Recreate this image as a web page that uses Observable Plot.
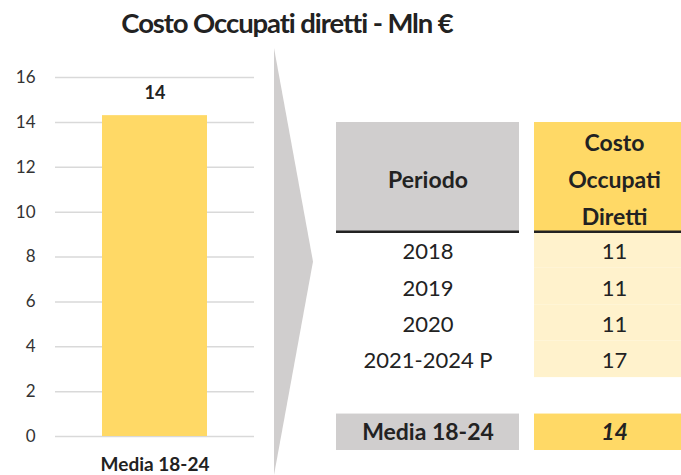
<!DOCTYPE html>
<html><head><meta charset="utf-8">
<script src="https://cdn.jsdelivr.net/npm/d3@7"></script>
<script src="https://cdn.jsdelivr.net/npm/@observablehq/plot@0.6"></script>
<style>
html,body{margin:0;padding:0;background:#fff;overflow:hidden;}
#root{position:relative;width:681px;height:475px;overflow:hidden;font-family:Lato,sans-serif;}
#root > *{position:absolute;}
#title{left:0;width:574px;top:10px;text-align:center;font-weight:700;font-size:27.5px;letter-spacing:-1.1px;line-height:26px;color:#222;white-space:nowrap;}
</style></head><body><div id="root"><div id="title"></div></div>
<script>
// ---- data ----
const title = "Costo Occupati diretti - Mln €";
const barCategories = ["Media 18-24"];
const barValues = [14.3];
const barLabels = ["14"];
const yTicks = [0, 2, 4, 6, 8, 10, 12, 14, 16];
const periods = ["2018", "2019", "2020", "2021-2024 P"];
const costs = [11, 11, 11, 17];
const headerPeriod = "Periodo";
const headerCost = "Costo\nOccupati\nDiretti";
const summaryLabel = "Media 18-24";
const summaryValue = "14";
const arrowProfile = [0, 1, 0];

// ---- colours ----
const YELLOW = "#FFD966", LIGHTYELLOW = "#FFF2CC", GREY = "#D0CECE", INK = "#222";
const FONT = "Lato, sans-serif";

const root = document.getElementById("root");
document.getElementById("title").textContent = title;

function place(node, left, top) {
  node.style.left = left + "px"; node.style.top = top + "px";
  root.appendChild(node);
}

// ---- bar chart ----
const barData = barCategories.map((c, i) => ({cat: c, value: barValues[i], label: barLabels[i]}));
const bar = Plot.plot({
  width: 254, height: 475,
  marginLeft: 55, marginRight: 0, marginTop: 77, marginBottom: 39,
  style: {fontFamily: FONT, background: "transparent", overflow: "visible"},
  x: {type: "band", domain: barCategories, padding: 0.309, label: null},
  y: {domain: [0, 16], label: null},
  marks: [
    Plot.ruleY(yTicks, {stroke: "#d9d9d9", strokeWidth: 1.5}),
    Plot.barY(barData, {x: "cat", y: "value", fill: YELLOW}),
    Plot.text(barData, {x: "cat", y: "value", text: "label", dy: -22, fontWeight: "bold", fontSize: 18, fill: INK}),
    Plot.axisY({ticks: yTicks, tickSize: 0, tickPadding: 20, fontSize: 17, fill: "#333", label: null}),
    Plot.axisX({tickSize: 0, tickPadding: 21, fontWeight: "bold", fontSize: 19, fill: INK, label: null})
  ]
});
place(bar, 0, 0);

// ---- arrow ----
const arrowData = arrowProfile.map((w, i) => ({pos: i, w}));
const arrow = Plot.plot({
  width: 39, height: 427, margin: 0, axis: null,
  style: {background: "transparent"},
  x: {domain: [0, 1]},
  y: {domain: [0, arrowProfile.length - 1], reverse: true},
  marks: [Plot.areaX(arrowData, {y: "pos", x1: 0, x2: "w", fill: GREY})]
});
place(arrow, 274, 48);

// ---- table ----
const nHeader = 3;
const nRows = nHeader + periods.length + 2;
const summaryRow = nHeader + periods.length + 1;

function column(headerText, bodyTexts, bodyFill, sumText, headerFill, sumFill, sumItalic, width, left) {
  const cells = [
    {y1: 0, y2: nHeader, fill: headerFill},
    ...bodyTexts.map((t, i) => ({y1: nHeader + i, y2: nHeader + i + 1, fill: bodyFill})),
    {y1: summaryRow, y2: summaryRow + 1, fill: sumFill}
  ].filter(d => d.fill);
  const body = bodyTexts.map((t, i) => ({y: nHeader + i + 0.5, text: String(t)}));
  const p = Plot.plot({
    width, height: 328, margin: 0,
    style: {fontFamily: FONT, background: "transparent"},
    x: {axis: null},
    y: {domain: [0, nRows], reverse: true, axis: null},
    color: {type: "identity"},
    marks: [
      Plot.rect(cells, {y1: "y1", y2: "y2", fill: "fill"}),
      Plot.ruleY([nHeader], {stroke: INK, strokeWidth: 2.5}),
      Plot.text([headerText], {y: nHeader / 2, text: d => d, frameAnchor: "middle", dy: -1, fontSize: 23, fontWeight: "bold", lineHeight: 1.6, fill: INK}),
      Plot.text(body, {y: "y", text: "text", frameAnchor: "middle", dy: 2, fontSize: 22, fill: INK}),
      Plot.text([sumText], {y: summaryRow + 0.5, text: d => d, frameAnchor: "middle", fontSize: 23, fontWeight: "bold", fontStyle: sumItalic ? "italic" : "normal", fill: INK})
    ]
  });
  place(p, left, 122);
}
column(headerPeriod, periods, null, summaryLabel, GREY, GREY, false, 183, 336);
column(headerCost, costs, LIGHTYELLOW, summaryValue, YELLOW, YELLOW, true, 160, 534);
</script></body></html>
